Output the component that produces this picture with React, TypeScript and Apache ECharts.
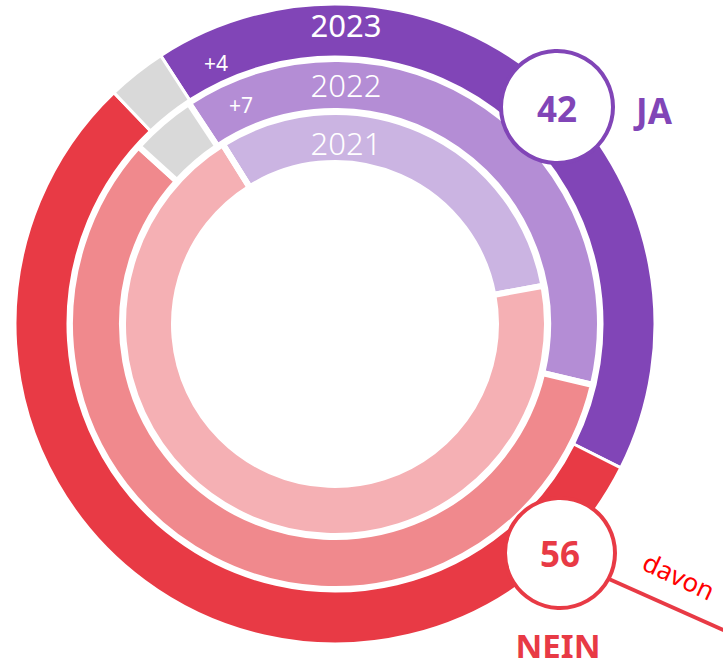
import React, { useEffect, useRef } from "react";
import * as echarts from "echarts";

const years = ["2021", "2022", "2023"];
const jaValues = [31, 38, 42];
const neinValues = [69, 58, 56];
const unsureValues = [0, 4, 3];
const changeLabels = ["", "+7", "+4"];
const jaColors = ["#CBB4E2", "#B48DD5", "#8145B7"];
const neinColors = ["#F5B0B4", "#F0898D", "#E83A45"];
const unsureColor = "#D9D9D9";
const jaTotal = 42;
const neinTotal = 56;

const FONT = "'Noto Sans', 'Open Sans', sans-serif";

export default function App() {
  const ref = useRef<HTMLDivElement>(null);
  useEffect(() => {
    if (!ref.current) return;
    const chart = echarts.init(ref.current, undefined, { renderer: "svg" });
    const center = [335, 324];
    const radii = [
      [161, 212],
      [213, 265],
      [267, 320],
    ];
    const borders = [6, 6, 3];
    const starts = [122, 123.5, 123];
    const series = years.map((y, i) => ({
      type: "pie",
      name: y,
      center,
      radius: radii[i],
      startAngle: starts[i],
      clockwise: true,
      silent: true,
      label: { show: false },
      labelLine: { show: false },
      itemStyle: { borderColor: "#ffffff", borderWidth: borders[i] },
      data: [
        { name: "JA", value: jaValues[i], itemStyle: { color: jaColors[i] } },
        { name: "NEIN", value: neinValues[i], itemStyle: { color: neinColors[i] } },
        { name: "weiß nicht", value: unsureValues[i], itemStyle: { color: unsureColor } },
      ],
    }));

    const yearPos = [
      [346, 143],
      [346, 85],
      [346, 25],
    ];
    const changePos = [
      [0, 0],
      [241, 105],
      [216, 63],
    ];
    const graphics: any[] = [];
    years.forEach((y, i) => {
      graphics.push({
        type: "text",
        x: yearPos[i][0],
        y: yearPos[i][1],
        z: 100,
        style: {
          text: y,
          fill: "#ffffff",
          font: `${i === 2 ? "normal" : "300"} 31px ${FONT}`,
          textAlign: "center",
          textVerticalAlign: "middle",
        },
      });
      if (changeLabels[i]) {
        graphics.push({
          type: "text",
          x: changePos[i][0],
          y: changePos[i][1],
          z: 100,
          style: {
            text: changeLabels[i],
            fill: "#ffffff",
            font: `normal 21px ${FONT}`,
            textAlign: "center",
            textVerticalAlign: "middle",
          },
        });
      }
    });
    // JA bubble
    graphics.push({
      type: "circle",
      z: 100,
      shape: { cx: 557, cy: 107, r: 56 },
      style: { fill: "#ffffff", stroke: jaColors[2], lineWidth: 4 },
    });
    graphics.push({
      type: "text",
      x: 557,
      y: 108,
      z: 101,
      style: {
        text: String(jaTotal),
        fill: jaColors[2],
        font: `bold 35px ${FONT}`,
        textAlign: "center",
        textVerticalAlign: "middle",
      },
    });
    graphics.push({
      type: "text",
      x: 654,
      y: 110,
      z: 101,
      style: {
        text: "JA",
        fill: jaColors[2],
        font: `bold 35px ${FONT}`,
        textAlign: "center",
        textVerticalAlign: "middle",
      },
    });
    // connector line
    graphics.push({
      type: "line",
      z: 99,
      shape: { x1: 600, y1: 575, x2: 730, y2: 633 },
      style: { stroke: neinColors[2], lineWidth: 4 },
    });
    // NEIN bubble
    graphics.push({
      type: "circle",
      z: 100,
      shape: { cx: 560, cy: 553, r: 55 },
      style: { fill: "#ffffff", stroke: neinColors[2], lineWidth: 4 },
    });
    graphics.push({
      type: "text",
      x: 560,
      y: 553,
      z: 101,
      style: {
        text: String(neinTotal),
        fill: neinColors[2],
        font: `bold 35px ${FONT}`,
        textAlign: "center",
        textVerticalAlign: "middle",
      },
    });
    graphics.push({
      type: "text",
      x: 558,
      y: 645,
      z: 101,
      style: {
        text: "NEIN",
        fill: neinColors[2],
        font: `bold 33px ${FONT}`,
        textAlign: "center",
        textVerticalAlign: "middle",
      },
    });
    graphics.push({
      type: "text",
      x: 679,
      y: 576,
      rotation: (-25 * Math.PI) / 180,
      z: 101,
      style: {
        text: "davon",
        fill: "#FF0000",
        font: `normal 26px ${FONT}`,
        textAlign: "center",
        textVerticalAlign: "middle",
      },
    });

    chart.setOption({
      animation: false,
      backgroundColor: "#ffffff",
      series,
      graphic: graphics,
    });
    return () => chart.dispose();
  }, []);
  return (
    <div
      ref={ref}
      style={{ position: "fixed", left: 0, top: 0, width: 723, height: 666 }}
    />
  );
}
